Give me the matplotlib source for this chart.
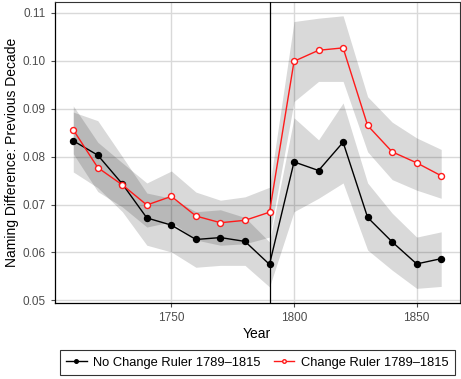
import numpy as np
import matplotlib.pyplot as plt

plt.rcParams['font.family'] = ['Liberation Sans', 'DejaVu Sans']

years = [1710, 1720, 1730, 1740, 1750, 1760, 1770, 1780,
         1790, 1800, 1810, 1820, 1830, 1840, 1850, 1860]

# no change ruler 1789-1815
no_change = [0.0833, 0.0803, 0.0743, 0.0672, 0.0657, 0.0627, 0.0631, 0.0623,
             0.0575, 0.0789, 0.0771, 0.0830, 0.0673, 0.0622, 0.0576, 0.0587]
no_change_lo = [0.0768, 0.0735, 0.0685, 0.0615, 0.0601, 0.0569, 0.0573, 0.0573,
                0.0528, 0.0685, 0.0713, 0.0745, 0.0605, 0.0563, 0.0525, 0.0529]
no_change_hi = [0.0893, 0.0875, 0.0800, 0.0724, 0.0713, 0.0685, 0.0689, 0.0673,
                0.0622, 0.0881, 0.0835, 0.0912, 0.0745, 0.0682, 0.0632, 0.0643]

# change ruler 1789-1815
change = [0.0856, 0.0777, 0.0741, 0.0699, 0.0717, 0.0676, 0.0662, 0.0667,
          0.0684, 0.0999, 0.1022, 0.1027, 0.0865, 0.0810, 0.0787, 0.0760]
change_lo = [0.0806, 0.0727, 0.0695, 0.0653, 0.0664, 0.0626, 0.0615, 0.0618,
             0.0632, 0.0915, 0.0957, 0.0957, 0.0810, 0.0752, 0.0730, 0.0713]
change_hi = [0.0906, 0.0830, 0.0787, 0.0745, 0.0770, 0.0726, 0.0709, 0.0716,
             0.0736, 0.1082, 0.1089, 0.1094, 0.0925, 0.0872, 0.0839, 0.0815]

fig = plt.figure(figsize=(4.61, 3.79), dpi=100)
ax = fig.add_axes([0.119, 0.2, 0.878, 0.795])

ax.fill_between(years, no_change_lo, no_change_hi, color='black', alpha=0.15, lw=0)
ax.fill_between(years, change_lo, change_hi, color='black', alpha=0.15, lw=0)

ax.axvline(1790, color='black', lw=0.9, zorder=3)

ax.plot(years, no_change, color='black', lw=1.0, marker='o', ms=4.3,
        mfc='black', mec='black', label='No Change Ruler 1789\u20131815', zorder=4)
ax.plot(years, change, color='#FF1A1A', lw=1.0, marker='o', ms=4.3,
        mfc='white', mec='#FF1A1A', mew=1.0, label='Change Ruler 1789\u20131815', zorder=5)

ax.set_xlim(1702.5, 1867.5)
ax.set_ylim(0.0494, 0.1123)
ax.set_xticks([1750, 1800, 1850])
ax.set_yticks([0.05, 0.06, 0.07, 0.08, 0.09, 0.10, 0.11])
ax.set_yticklabels(['0.05', '0.06', '0.07', '0.08', '0.09', '0.10', '0.11'])
ax.grid(True, color='#D9D9D9', lw=1.0)
ax.set_axisbelow(True)
ax.tick_params(labelsize=8.5, colors='#4D4D4D', length=3, width=0.8)
ax.tick_params(labelcolor='#4D4D4D')

for s in ['top', 'right']:
    ax.spines[s].set_color('#333333')
    ax.spines[s].set_linewidth(0.8)
for s in ['left', 'bottom']:
    ax.spines[s].set_color('black')
    ax.spines[s].set_linewidth(0.9)

ax.set_xlabel('Year', fontsize=10, labelpad=2)
ax.set_ylabel('Naming Difference: Previous Decade', fontsize=10, labelpad=3)

leg = ax.legend(loc='upper center', bbox_to_anchor=(0.5, -0.135), ncol=2,
                fontsize=9.3, frameon=True, fancybox=False, edgecolor='black',
                handlelength=1.6, columnspacing=1.0, handletextpad=0.5,
                borderpad=0.5, markerscale=0.6)
leg.get_frame().set_linewidth(0.8)

fig.savefig('out.png', dpi=100)
